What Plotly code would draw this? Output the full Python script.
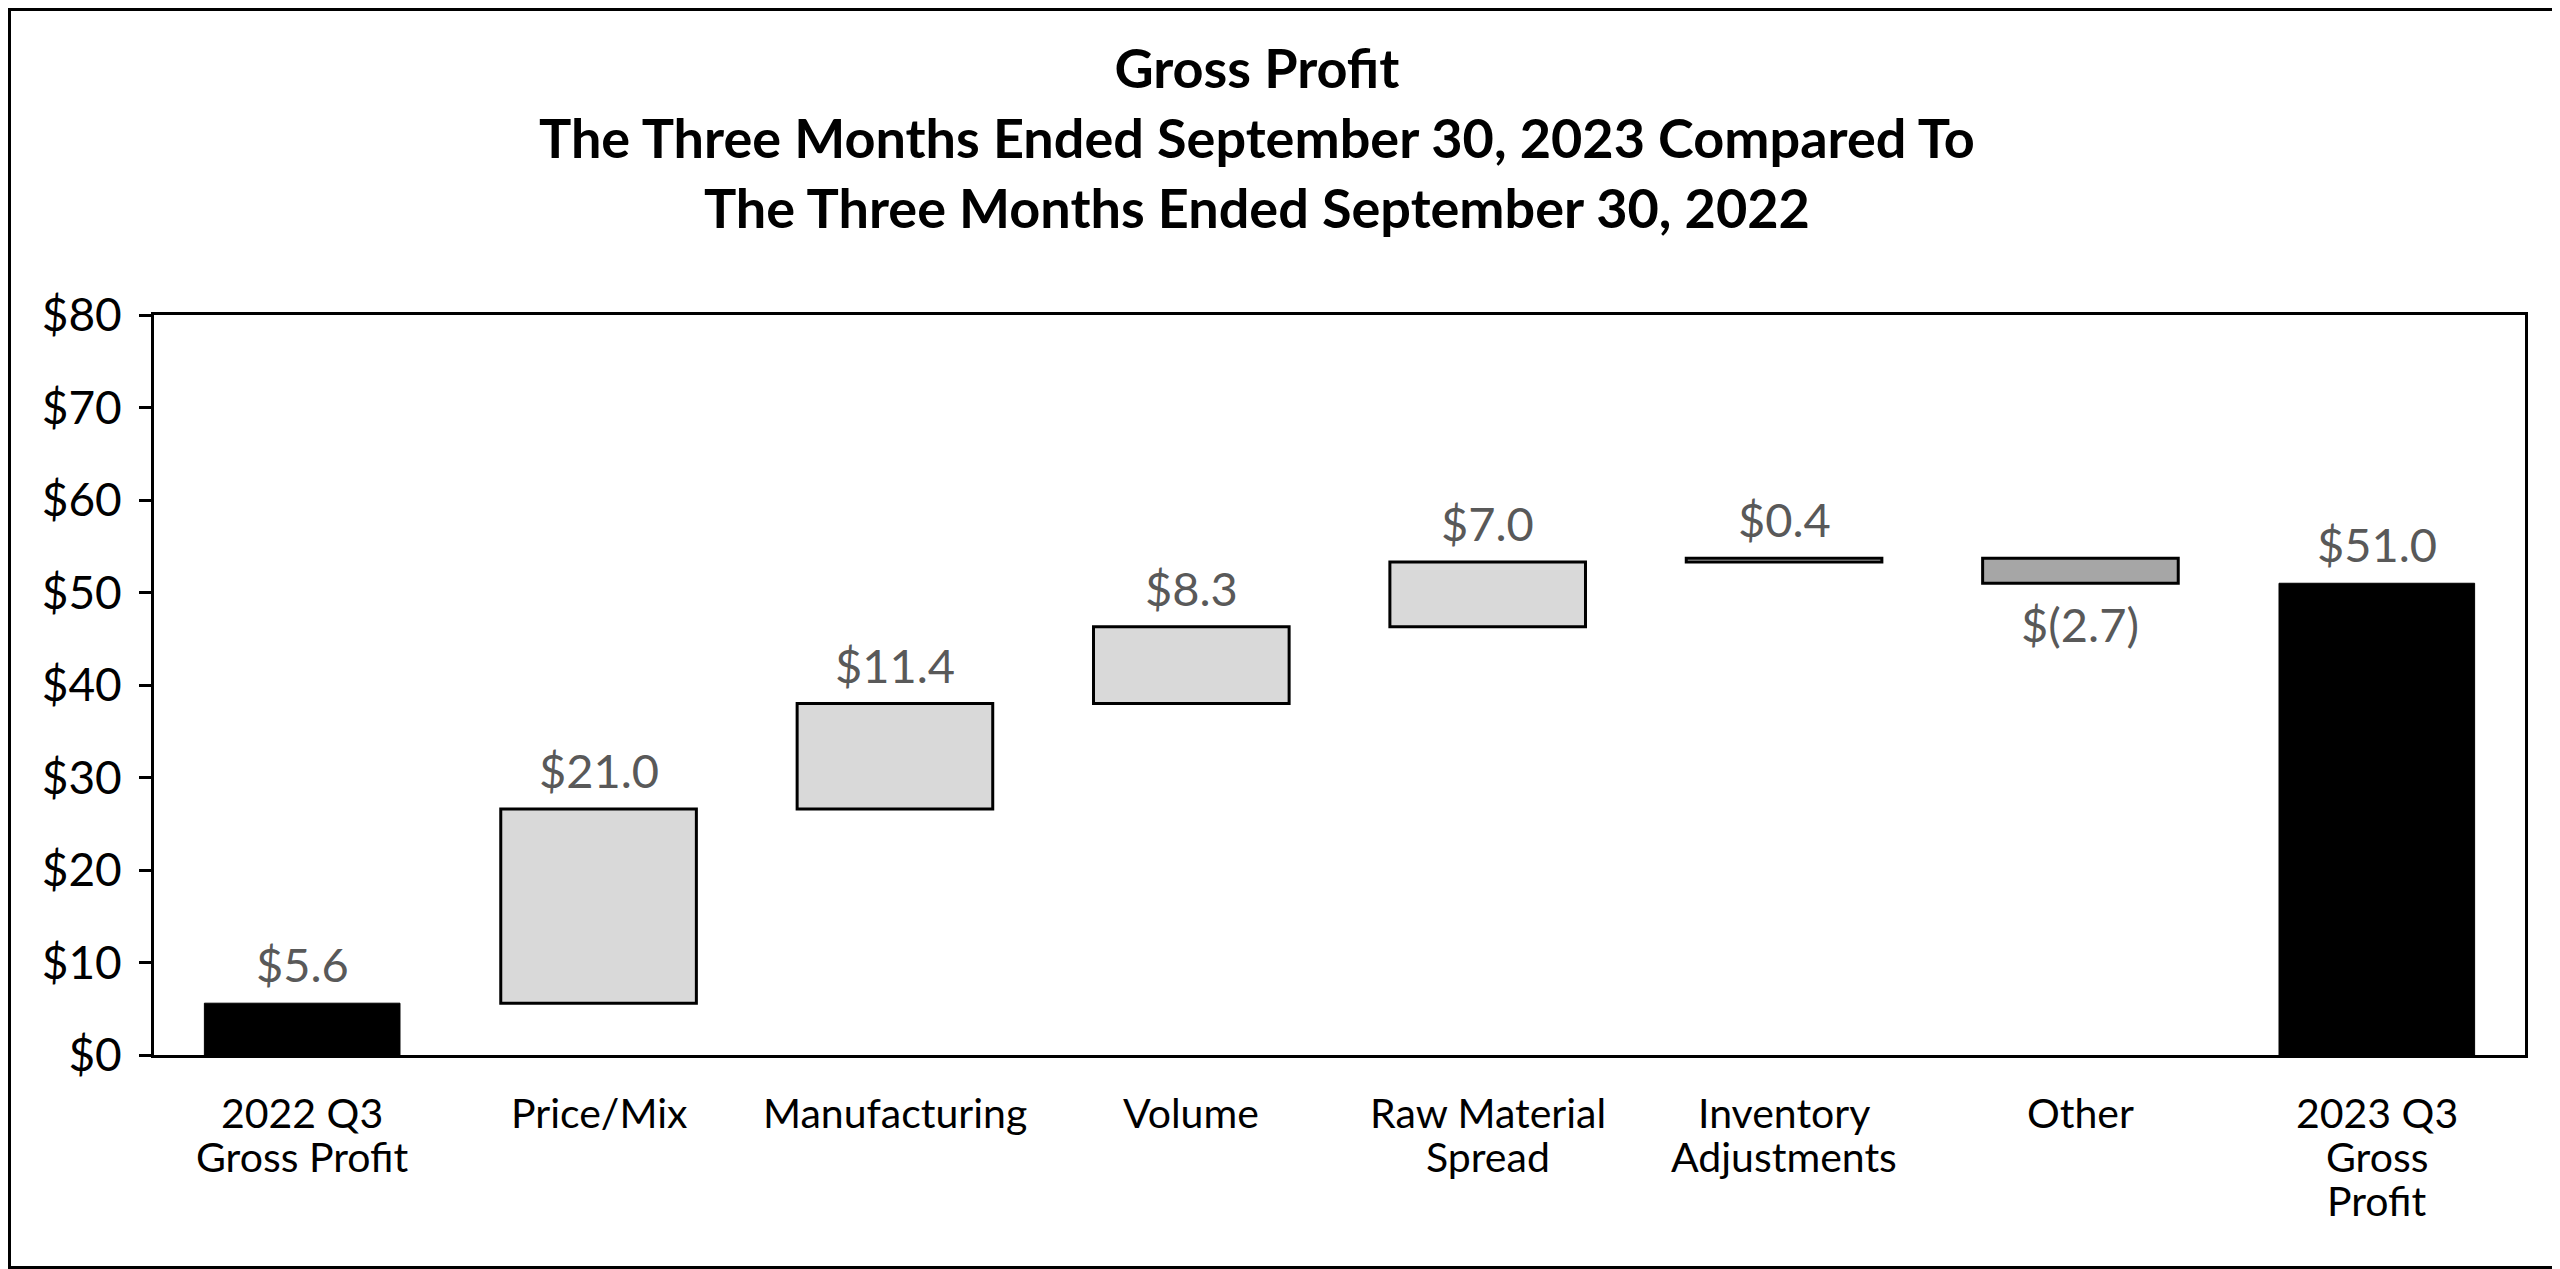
import plotly.graph_objects as go

# ---- data ----
categories = ["2022 Q3<br>Gross Profit", "Price/Mix", "Manufacturing", "Volume",
              "Raw Material<br>Spread", "Inventory<br>Adjustments", "Other",
              "2023 Q3<br>Gross<br>Profit"]
values = [5.6, 21.0, 11.4, 8.3, 7.0, 0.4, -2.7, 51.0]
measures = ["absolute", "relative", "relative", "relative", "relative",
            "relative", "relative", "total"]
y_tick_values = [0, 10, 20, 30, 40, 50, 60, 70, 80]
y_tick_labels = ["$" + str(v) for v in y_tick_values]
title_lines = ["Gross Profit",
               "The Three Months Ended September 30, 2023 Compared To",
               "The Three Months Ended September 30, 2022"]


def fmt(v):
    return "$({:.1f})".format(-v) if v < 0 else "${:.1f}".format(v)


labels = [fmt(v) for v in values]

# the page body has an 8px default margin, so the figure is sized to fit inside it
W, H = 2552, 1261
ML, MR, MT, MB = 146, 35, 307, 214
FONT = "Lato"
pw = W - ML - MR
ph = H - MT - MB

fig = go.Figure(go.Waterfall(
    x=categories,
    y=values,
    measure=measures,
    width=0.66,
    increasing=dict(marker=dict(color="#d9d9d9", line=dict(color="black", width=3))),
    decreasing=dict(marker=dict(color="#a6a6a6", line=dict(color="black", width=3))),
    totals=dict(marker=dict(color="black", line=dict(color="black", width=1))),
    connector=dict(visible=False),
    showlegend=False,
    hoverinfo="skip",
))

# value labels: above the bar end for rises/totals, below for falls
running = 0.0
for cat, val, meas, lab in zip(categories, values, measures, labels):
    if meas == "absolute":
        start, end = 0.0, val
        running = val
    elif meas == "total":
        start, end = 0.0, running
    else:
        start, end = running, running + val
        running = end
    top, bottom = max(start, end), min(start, end)
    if val >= 0:
        fig.add_annotation(x=cat, y=top, text=lab, showarrow=False,
                           yanchor="middle", yshift=39,
                           font=dict(family=FONT, size=47, color="#595959"))
    else:
        fig.add_annotation(x=cat, y=bottom, text=lab, showarrow=False,
                           yanchor="middle", yshift=-41,
                           font=dict(family=FONT, size=47, color="#595959"))

# category labels, one annotation per line to match the tight line spacing
for cat in categories:
    for i, line in enumerate(cat.split("<br>")):
        fig.add_annotation(x=cat, xref="x", y=0, yref="paper", text=line,
                           showarrow=False, yanchor="middle",
                           yshift=-(57 + 44 * i),
                           font=dict(family=FONT, size=41, color="black"))

# title
fig.add_annotation(xref="paper", yref="paper",
                   x=(1249 - ML) / pw, y=1 + (MT - 129) / ph,
                   xanchor="center", yanchor="middle", showarrow=False,
                   text="<br>".join("<b>" + t + "</b>" for t in title_lines),
                   font=dict(family=FONT, size=54, color="black"))

# outer frame
fig.add_shape(type="rect", xref="paper", yref="paper",
              x0=(1.5 - ML) / pw, x1=(W - 1.5 - ML) / pw,
              y0=-(MB - 1.5) / ph, y1=1 + (MT - 1.5) / ph,
              line=dict(color="black", width=3), layer="above")

fig.update_layout(
    width=W, height=H,
    margin=dict(l=ML, r=MR, t=MT, b=MB),
    paper_bgcolor="white", plot_bgcolor="white",
    font=dict(family=FONT, color="black"),
    xaxis=dict(showline=True, linecolor="black", linewidth=3, mirror=True,
               showgrid=False, ticks="", showticklabels=False,
               automargin=False, fixedrange=True),
    yaxis=dict(range=[0, 80], tickvals=y_tick_values, ticktext=y_tick_labels,
               showline=True, linecolor="black", linewidth=3, mirror=True,
               showgrid=False, zeroline=False, ticks="outside", ticklen=12,
               tickwidth=3, tickcolor="black", ticklabelstandoff=8,
               automargin=False, fixedrange=True,
               tickfont=dict(family=FONT, size=46, color="black")),
)

fig.write_html("out.html")
